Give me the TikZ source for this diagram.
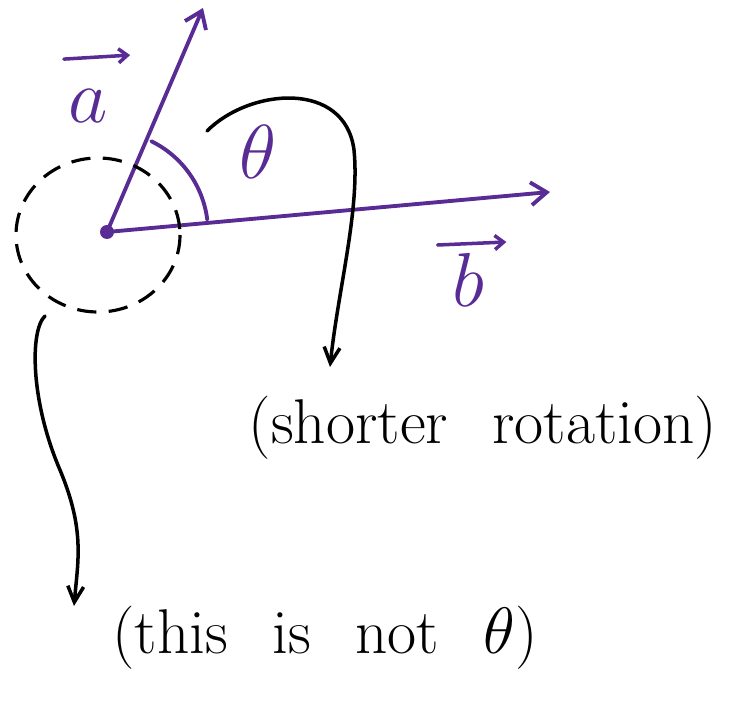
\documentclass[tikz,border=0pt]{standalone}
\usetikzlibrary{arrows.meta}
\definecolor{vecpurple}{RGB}{88,44,148}
\newcommand{\widegaps}{\spaceskip=0.7em plus 0.1em\relax}
\begin{document}
\begin{tikzpicture}[x=0.02cm, y=-0.02cm,
    vec/.style={draw=vecpurple, line width=2.2pt, line cap=round, -{Straight Barb[length=9pt,width=13pt]}},
    overarrow/.style={draw=vecpurple, line width=2pt, line cap=round, -{Straight Barb[length=5pt,width=8pt]}},
    pointer/.style={draw=black, line width=2pt, line cap=round, -{Straight Barb[length=9pt,width=9pt]}},
    veclabel/.style={text=vecpurple, inner sep=1pt, font=\fontsize{20}{24}\selectfont, scale=2.1},
    note/.style={font=\fontsize{20}{24}\selectfont, scale=1.8}
]
\useasboundingbox (0,0) rectangle (738,709);

\coordinate (origin) at (107,232);
\coordinate (atip) at (203,8);
\coordinate (btip) at (550,192);

% the two vectors
\draw[vec] (origin) -- (atip);
\draw[vec] (origin) -- (btip);
\fill[vecpurple] (origin) circle[radius=7];
\draw[vecpurple, line width=2.2pt, line cap=round] (origin) ++(-64:101) arc[start angle=-64, end angle=-7, radius=101];

\node[veclabel] (alabel) at (88,106) {$a$};
\draw[overarrow] ([shift={(0,-26)}]alabel.north west) -- ([shift={(18,-30)}]alabel.north east);
\node[veclabel] (theta) at (258,152) {$\theta$};
\node[veclabel] (blabel) at (468,280) {$b$};
\draw[overarrow] ([shift={(-10,-4)}]blabel.north west) -- ([shift={(18,-7)}]blabel.north east);

% the other side
\draw[dashed, dash pattern=on 11pt off 7pt, line width=1.8pt] (98,235) ellipse[x radius=82, y radius=77];

\node[note] (shorter) at (483,428) {\widegaps (shorter rotation)};
\node[note] (notit) at (325,638) {\widegaps (this is not $\theta$)};

\coordinate (rotstart) at (207,131);
\coordinate (rotend) at (330,367);
\coordinate (ringstart) at (45,316);
\coordinate (ringend) at (74,606);

\draw[pointer] (rotstart) .. controls (250,88) and (345,80) .. (354,150)
    .. controls (360,210) and (338,290) .. (rotend);
\draw[pointer] (ringstart) .. controls (30,330) and (30,400) .. (60,470)
    .. controls (85,530) and (78,560) .. (ringend);
\end{tikzpicture}
\end{document}
